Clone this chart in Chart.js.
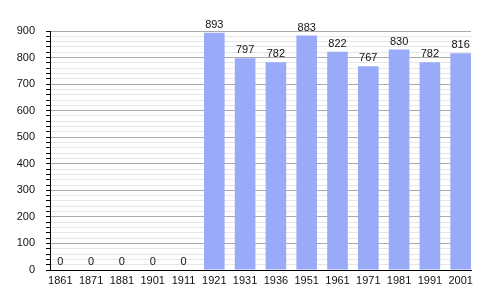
<!DOCTYPE html>
<html>
<head>
<meta charset="utf-8">
<script src="https://cdn.jsdelivr.net/npm/chart.js@4"></script>
<style>
  html, body { margin: 0; padding: 0; background: #fff; }
  #wrap { width: 500px; height: 300px; }
</style>
</head>
<body>
<div id="wrap"><canvas id="popChart" width="500" height="300"></canvas></div>
<script>
// === data ===
const years = ["1861", "1871", "1881", "1901", "1911", "1921", "1931", "1936", "1951", "1961", "1971", "1981", "1991", "2001"];
const population = [0, 0, 0, 0, 0, 893, 797, 782, 883, 822, 767, 830, 782, 816];
const yTicksMajor = [0, 100, 200, 300, 400, 500, 600, 700, 800, 900];

const BAR_COLOR = "#99aaf8";
const FONT = { family: "'Liberation Sans', Arial, sans-serif", size: 11 };

// draws the value above each bar
const valueLabels = {
    id: "valueLabels",
    afterDatasetsDraw(chart) {
        const ctx = chart.ctx;
        const meta = chart.getDatasetMeta(0);
        ctx.save();
        ctx.font = `${FONT.size}px ${FONT.family}`;
        ctx.fillStyle = "#111";
        ctx.textAlign = "center";
        ctx.textBaseline = "alphabetic";
        meta.data.forEach((bar, i) => {
            ctx.fillText(String(population[i]), bar.x, bar.y - 5);
        });
        ctx.restore();
    }
};

const ctx = document.getElementById("popChart").getContext("2d");

new Chart(ctx, {
    type: "bar",
    data: {
        datasets: [{
            data: population.map((v, i) => ({ x: i, y: v })),
            backgroundColor: BAR_COLOR,
            borderWidth: 0,
            categoryPercentage: 1,
            barPercentage: 0.67
        }]
    },
    options: {
        responsive: false,
        animation: false,
        devicePixelRatio: 1,
        layout: { padding: { top: 31, right: 29, left: 0, bottom: 0 } },
        plugins: {
            legend: { display: false },
            tooltip: { enabled: false }
        },
        scales: {
            x: {
                type: "linear",
                offset: false,
                min: -0.335,
                max: years.length - 1 + 0.335,
                grid: { display: true, drawOnChartArea: false, drawTicks: false },
                border: { display: true, color: "#000", width: 1 },
                ticks: {
                    stepSize: 1,
                    includeBounds: false,
                    autoSkip: false,
                    maxRotation: 0,
                    padding: 4,
                    color: "#111",
                    font: FONT,
                    callback: v => (Number.isInteger(v) && years[v] !== undefined) ? years[v] : ""
                },
                afterFit: s => { s.height = 30; }
            },
            y: {
                min: 0,
                max: 900,
                grid: {
                    color: c => (yTicksMajor.includes(c.tick.value) ? "#aaaaaa" : "#e6e6e6"),
                    tickColor: "#000",
                    tickLength: 4,
                    lineWidth: 1
                },
                border: { display: true, color: "#000", width: 1 },
                ticks: {
                    stepSize: 20,
                    autoSkip: false,
                    padding: 11,
                    color: "#111",
                    font: FONT,
                    callback: v => (yTicksMajor.includes(v) ? String(v) : "")
                },
                afterFit: s => { s.width = 50; }
            }
        }
    },
    plugins: [valueLabels]
});
</script>
</body>
</html>
